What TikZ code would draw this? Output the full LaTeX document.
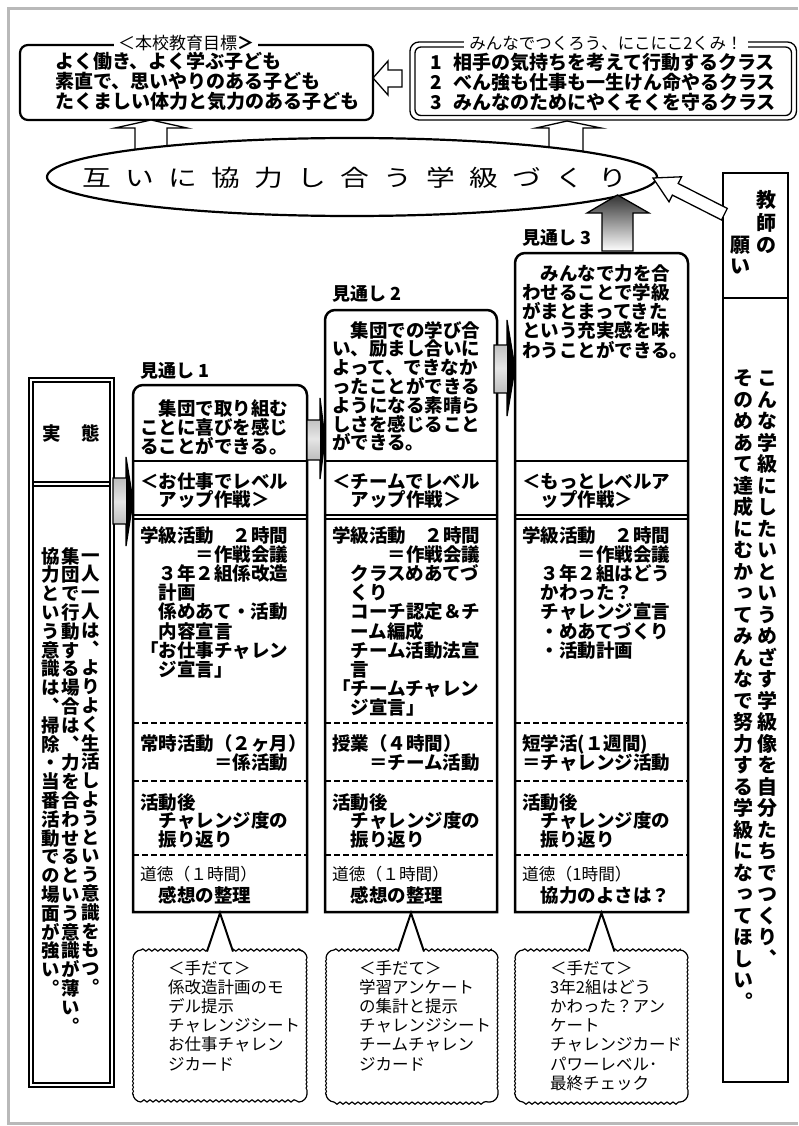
\documentclass[tikz,border=0pt]{standalone}
\usepackage{fontspec}
\usepackage{graphicx}
\usetikzlibrary{shapes.geometric,decorations.pathmorphing}
\newfontfamily\jp{Noto Sans CJK JP}
\newfontfamily\jpv[RawFeature=+vert]{Noto Sans CJK JP}
\newcount\vcnt
\makeatletter
% vertical column of characters: #1 name, #2 x, #3 y of first char, #4 pitch, #5 font size, #6 text
\newcommand\vcol[6]{%
  \global\vcnt=0
  \@tfor\vchr:=#6\do{%
    \pgfmathsetmacro\vy{#3+\the\vcnt*#4}%
    \node[inner sep=0, text height=0.88*#5pt, text depth=0.12*#5pt, font=\jpv\bfseries\fontsize{#5}{#5}\selectfont] (#1-\the\vcnt) at (#2,\vy) {\vchr};%
    \global\advance\vcnt by 1\relax}}
\newcommand\spread[3]{\@tfor\spc:=#3\do{\makebox[#1][c]{\scalebox{#2}[1]{\spc}}}}
\makeatother
% lines of text: #1 name, #2 x, #3 baseline of first line, #4 pitch, #5 style, #6 list
\newcommand\tlines[6]{\foreach \tlx [count=\tix from 0] in {#6} {\node[#5] (#1-\tix) at (#2,{#3+\tix*#4}) {\tlx};}}
\newcommand\colframe[3]{%
  \draw[line width=2.5pt] (#1,912) -- (#1,#3+10) .. controls (#1,#3+4.5) and (#1+4.5,#3) .. (#1+10,#3) -- (#2-10,#3) .. controls (#2-4.5,#3) and (#2,#3+4.5) .. (#2,#3+10) -- (#2,912) -- cycle;
  \draw[line width=2.5pt] (#1,461) -- (#2,461);
  \draw[line width=1.4pt] (#1,515) -- (#2,515) (#1,519) -- (#2,519);
  \draw[line width=2.5pt, dash pattern=on 6pt off 3pt] (#1,723) -- (#2,723) (#1,781) -- (#2,781) (#1,855) -- (#2,855);}
\newcommand\callout[3]{%
  \draw[line width=1.2pt] (#1+8,950) .. controls (#1+3.6,950) and (#1,954.4) .. (#1,958)
     (#2-8,950) .. controls (#2-3.6,950) and (#2,954.4) .. (#2,958)
     (#1+8,1102) .. controls (#1+3.6,1102) and (#1,1097.6) .. (#1,1094)
     (#2-8,1102) .. controls (#2-3.6,1102) and (#2,1097.6) .. (#2,1094);
  \draw[line width=1.2pt, decorate, decoration={snake, amplitude=1.1pt, segment length=6pt}] (#1+8,950) -- (#2-8,950) (#1+8,1102) -- (#2-8,1102);
  \draw[line width=1.1pt, decorate, decoration={snake, amplitude=0.5pt, segment length=4pt}] (#1,958) -- (#1,1094) (#2,958) -- (#2,1094);
  \fill[white] (#3-14,953.5) -- (#3,913) -- (#3+14,953.5) -- cycle;
  \draw[line width=2pt] (#3-13,951.5) -- (#3,913) -- (#3+13,951.5);}
\tikzset{
  tb/.style={font=\jp\bfseries\fontsize{18.5}{19}\selectfont, inner sep=0, anchor=base west},
  tbig/.style={font=\jp\bfseries\fontsize{19}{20}\selectfont, inner sep=0, anchor=base west},
  tr/.style={font=\jp\fontsize{16.7}{18}\selectfont, inner sep=0, anchor=base west},
  tc/.style={font=\jp\fontsize{16.5}{18}\selectfont, inner sep=0, anchor=base west},
  lbl/.style={font=\jp\bfseries\fontsize{18}{19}\selectfont, inner sep=0, anchor=base west},
  tch/.style={font=\jp\bfseries\fontsize{20}{20}\selectfont, inner sep=0},
  hollow/.style={draw, line width=1.3pt, fill=white},
  grayarrow/.style={draw, line width=1.3pt, top color=gray!80, bottom color=gray!80, middle color=gray!20},
}
\begin{document}
\begin{tikzpicture}[x=1pt,y=-1pt]
\useasboundingbox (0,0) rectangle (798,1126);
% outer frame
\draw[gray!55, line width=3pt] (798,8.5) -- (8,8.5) -- (8,1123) -- (798,1123);

% top-left box
\draw[line width=2.2pt, rounded corners=8pt] (20,45) rectangle (373,120);
\node[font=\jp\fontsize{17}{17}\selectfont, fill=white, inner xsep=4pt, inner ysep=1pt] (goalLt) at (186,43) {＜本校教育目標{\bfseries ＞}};
\tlines{goalL}{55}{69}{20}{tbig}{よく働き、よく学ぶ子ども, 素直で、思いやりのある子ども, たくましい体力と気力のある子ども}

% top-right box
\draw[line width=1.3pt, rounded corners=9pt] (410,42) rectangle (796.5,120);
\draw[line width=1.3pt, rounded corners=6pt] (415,47) rectangle (791.5,115.5);
\node[font=\jp\fontsize{16.5}{17}\selectfont, fill=white, inner xsep=5pt, inner ysep=1pt] (goalRt) at (606,43) {みんなでつくろう、にこにこ2くみ！};
\tlines{goalR}{430}{70}{20}{tbig}{{\makebox[23pt][l]{1}相手の気持ちを考えて行動するクラス}, {\makebox[23pt][l]{2}べん強も仕事も一生けん命やるクラス}, {\makebox[23pt][l]{3}みんなのためにやくそくを守るクラス}}

% hollow arrows
\path[hollow] (402,70) -- (388,70) -- (388,61) -- (373,78) -- (388,95) -- (388,87) -- (402,87) -- cycle;
\path[hollow] (135,158) -- (135,128) -- (115,128) -- (151,120) -- (187,128) -- (167,128) -- (167,158) -- cycle;
\path[hollow] (549,160) -- (549,128) -- (536,128) -- (567,121) -- (601,128) -- (583,128) -- (583,160) -- cycle;

% ellipse
\node[ellipse, draw, line width=2.2pt, fill=white, minimum width=610pt, minimum height=78pt, inner sep=0] (goal) at (352,177) {};
\node[font=\jp\fontsize{23}{23}\selectfont, inner sep=0, anchor=base] (goaltxt) at (355,186.5) {\spread{43pt}{1.25}{互いに協力し合う学級づくり}};

% grey up arrow
\path[draw, line width=1.3pt, top color=black!80, bottom color=white] (602,251) -- (602,213) -- (587,213) -- (617.5,195) -- (649,213) -- (633,213) -- (633,251) -- cycle;

% teacher box
\draw[line width=2.2pt] (723,173) rectangle (788,1082);
\draw[line width=2.2pt] (723,298) -- (788,298);
\node[tch] (k1) at (766,200) {教};
\node[tch] (k2) at (766,223) {師};
\node[tch] (k3) at (766,245) {の};
\node[tch] (k4) at (740,245) {願};
\node[tch] (k5) at (740,267) {い};
\vcol{vr}{767}{378}{21.5}{20}{こんな学級にしたいというめざす学級像を自分たちでつくり、}
\vcol{vl}{743}{378}{21.5}{20}{そのめあて達成にむかってみんなで努力する学級になってほしい。}

% white arrow from teacher
\path[hollow] (653,178) -- (681.6,176.8) -- (678.2,183.5) -- (727.3,208.4) -- (721.5,220) -- (672.4,195.1) -- (669,201.8) -- cycle;

% left box
\draw[line width=1.3pt] (29,378) rectangle (114,1087);
\draw[line width=1.3pt] (33,382) rectangle (110,1083);
\draw[line width=1.3pt] (33,482) -- (110,482) (33,486) -- (110,486);
\node[font=\jp\bfseries\fontsize{18.5}{19}\selectfont, inner sep=0] (jt) at (71,433) {実\hspace{21pt}態};
\vcol{va}{91}{555}{18.8}{18.5}{一人一人は、よりよく生活しようという意識をもつ。}
\vcol{vb}{71}{556}{18.8}{18.5}{集団で行動する場合は、力を合わせるという意識が薄い。}
\vcol{vc}{51}{556}{18.8}{18.5}{協力という意識は、掃除・当番活動での場面が強い。}

% columns
\colframe{133}{307}{385}
\colframe{325}{497}{310}
\colframe{515}{688}{253}

\node[lbl] (m1) at (140,377) {見通し 1};
\node[lbl] (m2) at (332,300) {見通し 2};
\node[lbl] (m3) at (522,244) {見通し 3};

% column 1
\tlines{a1}{140}{415}{19}{tb}{　集団で取り組む, ことに喜びを感じ, ることができる。}
\tlines{a2}{140}{488}{18}{tb}{＜お仕事でレベル, 　アップ作戦＞}
\tlines{a3}{140}{542}{19.2}{tb}{学級活動　２時間, 　　　＝作戦会議, 　３年２組係改造, 　計画, 　係めあて・活動, 　内容宣言, 「お仕事チャレン, 　ジ宣言」}
\tlines{a4}{140}{750}{19}{tb}{常時活動（２ヶ月）, 　　　　＝係活動}
\tlines{a5}{140}{809}{18.5}{tb}{活動後, 　チャレンジ度の, 　振り返り}
\node[tr] (a6) at (140,880) {道徳（１時間）};
\node[tb] (a7) at (140,902) {　感想の整理};

% column 2
\tlines{b1}{332}{337}{18.8}{tb}{　集団での学び合, い、励まし合いに, よって、できなか, ったことができる, ようになる素晴ら, しさを感じること, ができる。}
\tlines{b2}{332}{488}{18}{tb}{＜チームでレベル, 　アップ作戦＞}
\tlines{b3}{332}{542}{19.2}{tb}{学級活動　２時間, 　　　＝作戦会議, 　クラスめあてづ, 　くり, 　コーチ認定＆チ, 　ーム編成, 　チーム活動法宣, 　言, 「チームチャレン, 　ジ宣言」}
\tlines{b4}{332}{750}{19}{tb}{授業（４時間）, 　　＝チーム活動}
\tlines{b5}{332}{809}{18.5}{tb}{活動後, 　チャレンジ度の, 　振り返り}
\node[tr] (b6) at (332,880) {道徳（１時間）};
\node[tb] (b7) at (332,902) {　感想の整理};

% column 3
\tlines{c1}{522}{280}{19.25}{tb}{　みんなで力を合, わせることで学級, がまとまってきた, という充実感を味, わうことができる。}
\tlines{c2}{522}{488}{18}{tb}{＜もっとレベルア, 　ップ作戦＞}
\tlines{c3}{522}{542}{19.2}{tb}{学級活動　２時間, 　　　＝作戦会議, 　３年２組はどう, 　かわった？, 　チャレンジ宣言, 　・めあてづくり, 　・活動計画}
\tlines{c4}{522}{750}{19}{tb}{短学活(１週間), ＝チャレンジ活動}
\tlines{c5}{522}{809}{18.5}{tb}{活動後, 　チャレンジ度の, 　振り返り}
\node[tr] (c6) at (522,880) {道徳（1時間）};
\node[tb] (c7) at (522,902) {　協力のよさは？};

% grey side arrows
\path[grayarrow] (113,478) -- (126,478) -- (126,457) -- (133,501) -- (126,546) -- (126,524) -- (113,524) -- cycle;
\fill (126,457) -- (133,501) -- (126,546) -- cycle;
\path[grayarrow] (307,420) -- (320,420) -- (320,398) -- (325,439) -- (320,479) -- (320,460) -- (307,460) -- cycle;
\fill (320,398) -- (325,439) -- (320,479) -- cycle;
\path[grayarrow] (494,345) -- (507,345) -- (507,320) -- (515,368) -- (507,416) -- (507,393) -- (494,393) -- cycle;
\fill (507,320) -- (515,368) -- (507,416) -- cycle;

% callouts
\callout{133}{307}{220}
\callout{326}{498}{411}
\callout{515}{688}{601.5}
\tlines{p1}{168}{974}{19.2}{tc}{＜手だて＞, 係改造計画のモ, デル提示, チャレンジシート, お仕事チャレン, ジカード}
\tlines{p2}{359}{974}{19.2}{tc}{＜手だて＞, 学習アンケート, の集計と提示, チャレンジシート, チームチャレン, ジカード}
\tlines{p3}{550}{974}{19.2}{tc}{＜手だて＞, 3年2組はどう, かわった？アン, ケート, チャレンジカード, パワーレベル･, 最終チェック}
\end{tikzpicture}
\end{document}
